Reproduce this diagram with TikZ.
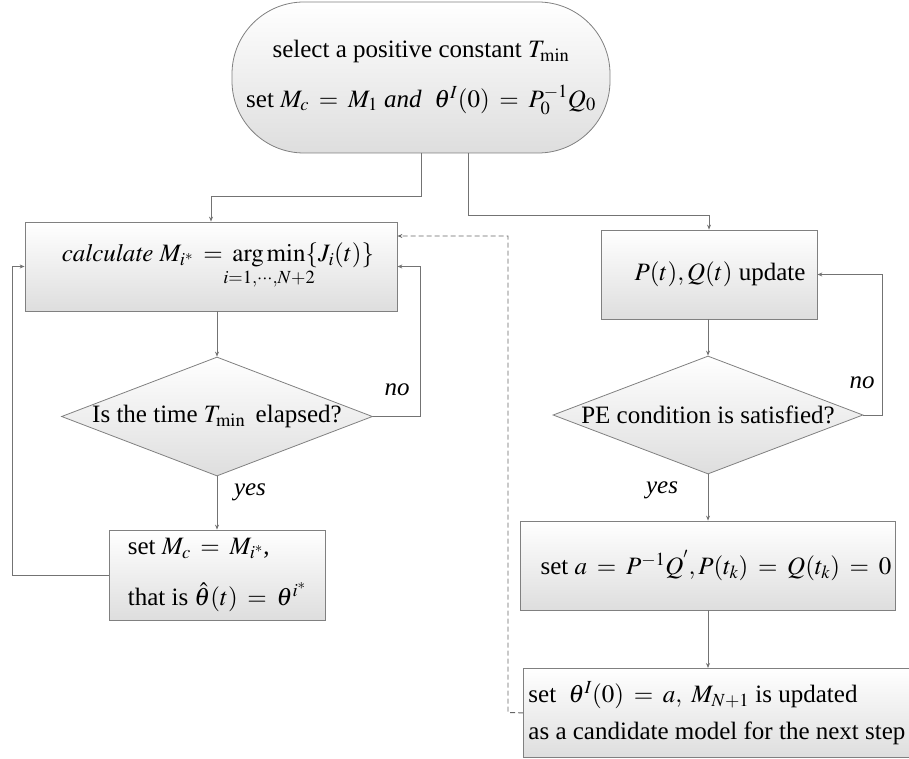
\documentclass[tikz,border=0pt]{standalone}
\usepackage{mathptmx}
\usepackage[no-math]{fontspec}
\setmainfont{Liberation Serif}
\usetikzlibrary{shapes.geometric,arrows.meta}
\thickmuskip=7mu plus 3mu
\medmuskip=5mu plus 2mu
\newcommand{\myclap}[1]{\hbox to 0pt{\hss$\scriptstyle #1$\hss}}
\tikzset{
  x=1pt, y=-1pt,
  base/.style={draw=black!50, line width=0.8pt, top color=white, bottom color=black!13,
    font=\fontsize{25}{30}\selectfont, inner sep=4pt},
  procbox/.style={base, rectangle, align=center},
  termbox/.style={base, rectangle, rounded corners=72pt, align=center},
  decision/.style={base, diamond, inner sep=0pt},
  conn/.style={draw=black!55, line width=0.8pt, -{Stealth[length=5pt,width=4pt]}},
  dashconn/.style={conn, draw=black!60, line width=0.9pt, dash pattern=on 5pt off 3pt},
  lab/.style={font=\fontsize{25}{30}\selectfont\itshape, inner sep=0pt},
}
\begin{document}
\begin{tikzpicture}
\useasboundingbox (0,0) rectangle (909,759);
% nodes
\node[termbox, minimum width=378pt, minimum height=151pt] (start) at (421,77.5)
  {select a positive constant $T_{\min}$\\[20pt]
   set $M_c = M_1$ \textit{and} \ $\theta^I(0) = P_0^{-1}Q_0$};
\node[procbox, minimum width=372pt, minimum height=89pt] (calc) at (211,266.5)
  {\hspace*{14pt}$\mathit{calculate}\ M_{i^*} = \mathop{\mathrm{arg\,min}}\limits_{\myclap{i=1,\cdots,N+2}}\{J_i(t)\}$};
\node[decision, minimum width=311pt, minimum height=119pt,
  label={[font=\fontsize{25}{30}\selectfont]center:Is the time $T_{\min}$\ \,elapsed?}] (d1) at (217,416.5) {};
\node[procbox, align=left, minimum width=216pt, minimum height=90pt] (setmc) at (217,575)
  {set $M_c = M_{i^*}$,\\[21pt] that is $\hat\theta(t) = \theta^{i^*}$};
\node[procbox, minimum width=216pt, minimum height=89pt] (pq) at (709,274.5)
  {\hspace*{22pt}$P(t), Q(t)$ update};
\node[decision, minimum width=310pt, minimum height=118pt,
  label={[font=\fontsize{25}{30}\selectfont]center:PE condition is satisfied?}] (d2) at (708,415) {};
\node[procbox, minimum width=374pt, minimum height=89pt] (seta) at (708,565.5)
  {\hspace*{16pt}set $a = P^{-1}Q^{'}, P(t_k) = Q(t_k) = 0$};
\node[procbox, align=left, minimum width=387pt, minimum height=89pt,
  anchor=north west] (final) at (523,668)
  {set \ $\theta^I(0) = a,\ M_{N+1}$ is updated\\[7pt] as a candidate model for the next step};
% connector labels
\node[lab] (no1) at (397,390) {no};
\node[lab] (yes1) at (250,492) {yes};
\node[lab] (no2) at (862,383) {no};
\node[lab] (yes2) at (662,490) {yes};
% helper coordinates
\coordinate (s1) at (421,153);
\coordinate (s2) at (468,153);
% connectors
\draw[conn] (s1) -- (421,196) -| (calc.north);
\draw[conn] (s2) -- (468,215) -| (pq.north);
\draw[conn] (calc.south -| d1.north) -- (d1.north);
\draw[conn] (d1.east) -- (420,416.5) |- (calc.east);
\draw[conn] (d1.south) -- (setmc.north);
\draw[conn] (setmc.west) -- (12,575) |- (calc.west);
\draw[conn] (pq.south -| d2.north) -- (d2.north);
\draw[conn] (d2.east) -- (882,415) |- (pq.east);
\draw[conn] (d2.south) -- (seta.north -| d2.south);
\draw[conn] (seta.south) -- (final.north -| seta.south);
\draw[dashconn] (final.west) -- (508,712.5) |- (calc.east |- 0,236);
\end{tikzpicture}
\end{document}
